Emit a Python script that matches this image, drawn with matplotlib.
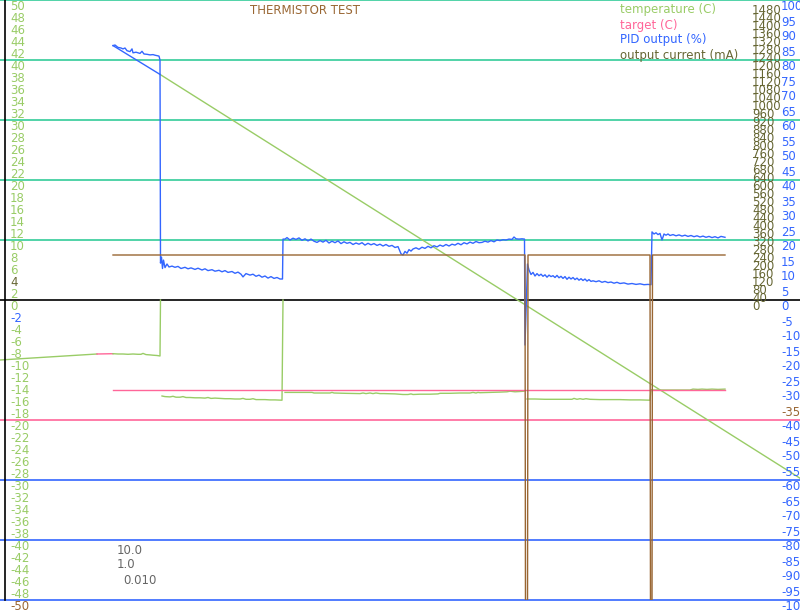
import matplotlib
matplotlib.use("Agg")
import matplotlib.pyplot as plt
import matplotlib.transforms as mtransforms
import numpy as np

nan = np.nan

# ---------------- data ----------------
title = "THERMISTOR TEST"
legend_labels = ["temperature (C)", "target (C)", "PID output (%)", "output current (mA)"]
gains = ["10.0", "1.0", "0.010"]

# temperature (C) -- left axis
temp_t = [113, 118, 123, 128, 133, 138, 141, 143, 146, 150, 153, 157, 160, 160.5, nan,
          162, 165, 170, 173, 176, 180, 183, 186, 190, 195, 200, 205, 208, 211, 215, 220, 225, 230,
          235, 240, 243, 246, 250, 253, 256, 260, 265, 270, 275, 282, 283, nan,
          285, 290, 300, 312, 314, 320, 330, 332, 334, 345, 360, 363, 366, 370, 373, 376, 380, 384,
          395, 403, 408, 411, 413, 420, 430, 438, 440, 450, 460, 470, 473, 476, 478, 480, 490, 500,
          507, 510, 515, 520, 524, nan,
          527, 535, 545, 555, 565, 572, 574, 577, 580, 583, 586, 590, 600, 610, 620, 630, 640, 650, 651, nan,
          652, 660, 670, 680, 690, 693, 698, 702, 707, 712, 718, 725]
temp_v = [-8.95, -9.0, -9.0, -9.05, -9.0, -9.05, -9.05, -8.9, -9.1, -9.15, -9.2, -9.25, -9.33, 0, nan,
          -16.0, -16.1, -16.15, -16.05, -16.2, -16.2, -16.1, -16.25, -16.25, -16.3, -16.3, -16.35, -16.25,
          -16.4, -16.35, -16.4, -16.45, -16.45, -16.5, -16.5, -16.4, -16.55, -16.55, -16.45, -16.6, -16.6,
          -16.6, -16.65, -16.65, -16.7, 0, nan,
          -15.4, -15.4, -15.4, -15.4, -15.5, -15.5, -15.5, -15.4, -15.5, -15.55, -15.6, -15.5, -15.6, -15.5,
          -15.6, -15.5, -15.6, -15.6, -15.65, -15.75, -15.75, -15.65, -15.75, -15.7, -15.7, -15.65, -15.55,
          -15.55, -15.5, -15.5, -15.4, -15.5, -15.4, -15.45, -15.4, -15.35, -15.3, -15.2, -15.3, -15.25,
          -15.2, nan,
          -16.5, -16.5, -16.55, -16.55, -16.55, -16.55, -16.4, -16.55, -16.45, -16.55, -16.45, -16.55,
          -16.6, -16.6, -16.6, -16.65, -16.65, -16.7, -15.0, nan,
          -15.0, -15.0, -15.0, -15.0, -15.0, -14.85, -14.9, -14.85, -14.9, -14.85, -14.9, -14.85]

# lead-in traces before the run starts
lead_green_t = [0, 97]
lead_green_v = [-10.0, -9.0]
lead_pink_t = [97, 113]
lead_pink_v = [-9.0, -8.95]

# long return traces
diag_blue_t = [113, 160]
diag_blue_v = [42.4, 37.6]
diag_green_t = [160, 800]
diag_green_v = [37.6, -29.7]

# target (C)
target_t = [113, 725]
target_v = [-15.0, -15.0]

# PID output (%) -- right axis
pid_t = [113, 115, 118, 121, 123, 125, 127, 130, 132, 133, 136, 140, 142, 144, 147, 150, 153, 155, 159, 160,
         160.5, 161.5, 162.5, 163.5, 165, 167, 169, 172, 175, 178, 181, 185, 188, 191, 195, 198, 202, 205,
         208, 212, 215, 219, 222, 225, 228, 232, 235, 238, 241, 243, 246, 250, 253, 256, 259, 262, 265,
         268, 271, 274, 277, 280, 282.5, 283,
         285, 287, 290, 293, 296, 299, 302, 305, 308, 311, 314, 317, 320, 323, 326, 329, 332, 335, 338,
         341, 344, 347, 350, 353, 356, 359, 362, 365, 368, 371, 374, 377, 380, 383, 386, 389, 392, 395,
         398, 401, 403, 405, 407, 409, 411, 413, 416, 419, 422, 425, 428, 431, 434, 437, 440, 443, 446,
         449, 452, 455, 458, 461, 464, 467, 470, 473, 476, 479, 482, 485, 488, 491, 494, 497, 500, 503,
         506, 509, 512, 514, 516, 519, 522, 524.5, 525,
         527.5, 529, 531, 533, 535, 537, 539, 541, 543, 545, 547, 549, 551, 553, 555, 557, 559, 561, 563,
         565, 567, 569, 571, 573, 575, 577, 579, 581, 583, 585, 587, 589, 591, 593, 596, 599, 602, 605,
         608, 611, 614, 617, 620, 624, 628, 632, 636, 640, 644, 648, 651,
         652, 654, 656, 658, 660, 662, 664, 666, 668, 670, 673, 676, 679, 682, 685, 688, 691, 694, 697,
         700, 703, 706, 709, 712, 715, 718, 721, 725]
pid_v = [84.8, 85.0, 84.2, 84.0, 83.7, 84.0, 83.1, 82.8, 83.7, 82.4, 82.6, 82.2, 82.9, 82.0, 81.9, 81.7,
         81.8, 81.6, 81.3, 80.0,
         12.3, 14.3, 10.5, 13.3, 10.8, 12.0, 11.0, 11.3, 10.9, 11.2, 10.5, 10.9, 10.4, 10.7, 10.2, 10.6,
         10.0, 10.4, 9.8, 10.1, 9.6, 9.9, 9.4, 9.8, 9.2, 9.5, 8.9, 9.3, 8.6, 7.7, 8.8, 8.3, 8.6, 7.9, 8.3,
         7.6, 8.0, 7.3, 7.8, 7.2, 7.5, 7.0, 7.0, 20.3,
         20.3, 20.8, 20.0, 20.6, 20.2, 20.7, 19.9, 20.4, 19.7, 20.3, 19.6, 19.2, 19.8, 19.3, 19.9, 19.0,
         19.6, 19.1, 19.7, 18.8, 19.4, 18.9, 19.2, 18.5, 19.0, 18.6, 19.1, 18.3, 18.9, 18.4, 18.8, 18.2,
         18.6, 18.0, 18.5, 17.9, 18.2, 17.5, 17.8, 15.4, 15.0, 16.2, 15.6, 16.8, 16.3, 17.0, 17.4, 16.9,
         17.6, 17.2, 17.9, 17.4, 18.1, 17.7, 18.3, 17.9, 18.5, 18.0, 18.6, 18.3, 18.9, 18.4, 19.1, 18.7,
         19.3, 18.9, 19.5, 19.1, 19.2, 19.6, 19.3, 19.8, 19.4, 20.0, 19.8, 20.1, 20.0, 20.3, 20.2, 21.0,
         20.4, 20.3, 20.4, 20.3, -15.0,
         12.0, 10.0, 8.5, 9.2, 8.0, 8.8, 8.1, 8.6, 7.9, 8.4, 7.6, 8.3, 7.8, 8.1, 7.5, 8.2, 7.4, 7.9, 7.2,
         7.8, 6.9, 7.6, 7.0, 7.5, 6.8, 7.3, 6.6, 7.1, 6.5, 7.0, 6.3, 6.8, 6.2, 6.4, 6.1, 6.4, 5.9, 6.2,
         5.8, 6.0, 5.6, 5.9, 5.5, 5.7, 5.3, 5.5, 5.2, 5.4, 5.1, 5.2, 5.1,
         22.7, 22.0, 22.4, 21.8, 22.2, 20.0, 22.0, 21.6, 22.0, 21.5, 21.8, 21.4, 21.7, 21.3, 21.6, 21.2,
         21.5, 21.1, 21.4, 21.0, 21.3, 20.9, 21.2, 20.8, 21.1, 20.7, 21.2, 20.9]

# output current (mA) -- inner right axis
cur_t = [113, 525, 525.5, 527.5, 528, 650, 650.5, 652, 652.5, 725]
cur_v = [225, 225, -1600, -1600, 225, 225, -1600, -1600, 225, 225]

# reference lines (temperature units)
ref_teal = [50, 40, 30, 20, 10]
ref_black = [0]
ref_pink = [-20]
ref_blue = [-30, -40, -50]

# tick labels
temp_ticks = list(range(50, -51, -2))
pid_ticks = list(range(100, -101, -5))
cur_ticks = list(range(1480, -1, -40))

# ---------------- style ----------------
GREEN = "#99cc66"
TEAL = "#33cc99"
PINK = "#ff6699"
BLUE = "#3366ff"
OLIVE = "#666633"
BROWN = "#996633"
GRAY = "#666666"
FS = 8.5

W, H = 800, 611
fig = plt.figure(figsize=(W / 100, H / 100), dpi=100)
fig.patch.set_facecolor("white")
ax = fig.add_axes([0, 11 / H, 1, 600 / H])
ax.set_xlim(0, 800)
ax.set_ylim(-50, 50)
ax2 = ax.twinx()
ax2.set_ylim(-100, 100)
ax3 = ax.twinx()
ax3.set_ylim(-1500, 1500)

for a in (ax, ax2, ax3):
    for s in a.spines.values():
        s.set_visible(False)
    a.tick_params(axis="x", bottom=False, labelbottom=False, top=False)
    a.patch.set_visible(False)

ax.spines["left"].set_visible(True)
ax.spines["left"].set_position(("axes", 5 / 800))
ax.spines["left"].set_linewidth(1.2)
ax.spines["left"].set_color("black")

down = mtransforms.ScaledTranslation(0, -5.5 / 100, fig.dpi_scale_trans)

# left temperature labels
ax.set_yticks(temp_ticks, [str(v) for v in temp_ticks])
ax.tick_params(axis="y", length=0, pad=-5 * 0.72, labelsize=FS)
special_left = {4: OLIVE, -2: BLUE, -50: BROWN}
for v, lbl in zip(temp_ticks, ax.get_yticklabels()):
    lbl.set_ha("left")
    lbl.set_color(special_left.get(v, GREEN))
    lbl.set_transform(lbl.get_transform() + down)

# PID labels (outer right)
ax2.set_yticks(pid_ticks, [str(v) for v in pid_ticks])
ax2.tick_params(axis="y", length=0, pad=-19 * 0.72, labelsize=FS)
for v, lbl in zip(pid_ticks, ax2.get_yticklabels()):
    lbl.set_ha("left")
    lbl.set_color(BROWN if v == -35 else BLUE)
    lbl.set_transform(lbl.get_transform() + down)

# current labels (inner right)
ax3.set_yticks(cur_ticks, [str(v) for v in cur_ticks])
ax3.tick_params(axis="y", length=0, pad=-48 * 0.72, labelsize=FS)
for lbl in ax3.get_yticklabels():
    lbl.set_ha("left")
    lbl.set_color(OLIVE)
    lbl.set_transform(lbl.get_transform() + down)

# reference lines
for v in ref_teal:
    ax.axhline(v, color=TEAL, lw=1.2, clip_on=False, zorder=1)
for v in ref_black:
    ax.axhline(v, color="black", lw=1.2, clip_on=False, zorder=1)
for v in ref_pink:
    ax.axhline(v, color=PINK, lw=1.2, clip_on=False, zorder=1)
for v in ref_blue:
    ax.axhline(v, color=BLUE, lw=1.2, clip_on=False, zorder=1)

# series
LW = 1.0
ax.plot(lead_green_t, lead_green_v, color=GREEN, lw=LW, zorder=2)
ax.plot(lead_pink_t, lead_pink_v, color=PINK, lw=LW, zorder=2)
ax.plot(temp_t, temp_v, color=GREEN, lw=LW, zorder=2)
ax.plot(diag_green_t, diag_green_v, color=GREEN, lw=LW, zorder=2)
ax.plot(diag_blue_t, diag_blue_v, color=BLUE, lw=LW, zorder=2)
ax.plot(target_t, target_v, color=PINK, lw=LW, zorder=3)

ax2.plot(pid_t, pid_v, color=BLUE, lw=LW)
ax3.plot(cur_t, cur_v, color=BROWN, lw=LW)

# title, legend, gains
fig.text(305 / W, 1 - 10 / H, title, ha="center", va="center", color=BROWN, fontsize=FS)
for i, (txt, col) in enumerate(zip(legend_labels, [GREEN, PINK, BLUE, OLIVE])):
    fig.text(620 / W, 1 - (10 + 15 * i) / H, txt, ha="left", va="center", color=col, fontsize=FS)
for txt, xp, yp in zip(gains, [117, 117, 123], [550, 565, 580]):
    fig.text(xp / W, 1 - yp / H, txt, ha="left", va="center", color=GRAY, fontsize=FS)

fig.savefig("out.png", dpi=100, facecolor="white")
